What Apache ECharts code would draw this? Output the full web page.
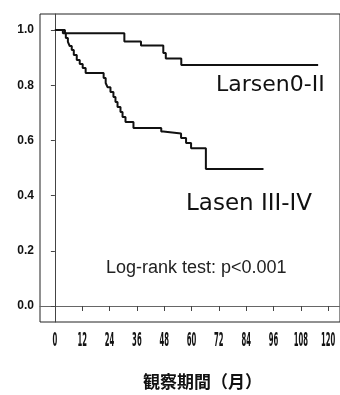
<!DOCTYPE html>
<html><head><meta charset="utf-8">
<script src="https://cdn.jsdelivr.net/npm/echarts@6/dist/echarts.min.js"></script>
<style>html,body{margin:0;padding:0;background:#fff}#c{width:340px;height:395px}</style>
</head><body><div id="c"></div>
<script>
// Kaplan-Meier steps: [month, survival after drop]
var larsen02 = [[0,1.0],[4.4,0.988],[30.5,0.958],[37.8,0.944],[47.6,0.917],[48.7,0.897],[55.5,0.873],[115.6,0.873]];
var lasen34 = [[0,1],[3.5,0.988],[4.8,0.971],[5.7,0.957],[6.5,0.942],[7.4,0.928],[8.3,0.909],[9.6,0.891],[10.9,0.877],[12.2,0.862],[13.5,0.844],[21.4,0.826],[22.3,0.808],[23.1,0.793],[24.4,0.775],[25.7,0.757],[26.6,0.739],[27.5,0.721],[28.8,0.703],[29.7,0.685],[31.0,0.667],[34.5,0.645],[46.7,0.632],[47.6,0.625],[55.4,0.609],[57.6,0.591],[59.8,0.572],[66.3,0.496],[91.6,0.496]];
// censored observations
var censor02 = [[37.1,0.958],[39.3,0.944],[41.4,0.944],[43.6,0.944],[45.8,0.944],[49.3,0.897],[51,0.897],[53.2,0.897],[58.9,0.873],[61.1,0.873],[63.3,0.873],[65.4,0.873],[66.7,0.873],[68.5,0.873],[69.8,0.873],[71.1,0.873],[72.4,0.873],[73.3,0.873],[75.5,0.873],[77.2,0.873],[79.4,0.873],[81.6,0.873],[84.2,0.873],[88.6,0.873],[90.8,0.873],[92.5,0.873],[115.6,0.873]];
var censor34 = [[45.8,0.645],[49.3,0.625],[51,0.625],[54.5,0.625],[61.1,0.572],[63.3,0.572],[67.6,0.496],[69.8,0.496],[71.1,0.496],[72.9,0.496],[75,0.496],[77.2,0.496],[82,0.496],[83.8,0.496],[88.6,0.496],[91.6,0.496]];
var xTicks = [0,12,24,36,48,60,72,84,96,108,120];
var yTicks = [0,0.2,0.4,0.6,0.8,1.0];
var xTitle = '観察期間（月）';
var labelUpper = 'Larsen0-II';
var labelLower = 'Lasen III-IV';
var testText = 'Log-rank test: p<0.001';

var X_MIN = -6.545, Y_MIN = -0.058;
var chart = echarts.init(document.getElementById('c'), null, {renderer:'canvas'});
chart.setOption({
  animation:false,
  grid:{left:40, top:14, right:-2, bottom:73, show:true, borderColor:'#222', borderWidth:1, backgroundColor:'transparent'},
  xAxis:{type:'value', min:X_MIN, max:125.2,
    axisLine:{show:true, lineStyle:{color:'#666', width:1}},
    splitLine:{show:false},
    axisTick:{show:true, length:5, customValues:xTicks, lineStyle:{color:'#444'}},
    axisLabel:{show:false}
  },
  yAxis:{type:'value', min:Y_MIN, max:1.058,
    axisLine:{show:true, lineStyle:{color:'#444', width:1}},
    splitLine:{show:false},
    axisTick:{show:true, length:4, customValues:yTicks, lineStyle:{color:'#444'}},
    axisLabel:{customValues:yTicks, margin:6, color:'#111', fontFamily:'"Liberation Sans",Arial,sans-serif', fontWeight:'bold', fontSize:12,
      formatter:function(v){return v.toFixed(1);}}
  },
  series:[
    {type:'line', step:'end', data:larsen02, symbol:'none', lineStyle:{color:'#111', width:2}},
    {type:'line', step:'end', data:lasen34, symbol:'none', lineStyle:{color:'#111', width:2}},
    {type:'scatter', data:censor02, symbol:'emptyCircle', symbolSize:4, itemStyle:{color:'#fff', borderColor:'#222', borderWidth:1}},
    {type:'scatter', data:censor34, symbol:'emptyCircle', symbolSize:4, itemStyle:{color:'#fff', borderColor:'#222', borderWidth:1}},
    // condensed x tick labels placed through the x scale
    {type:'custom', clip:false, silent:true,
      data:xTicks.map(function(v){return [v, Y_MIN];}),
      renderItem:function(params, api){
        var p = api.coord([api.value(0), api.value(1)]);
        return {type:'text', x:p[0], y:p[1]+10, scaleX:0.36, scaleY:1,
          style:{text:String(xTicks[params.dataIndex]), font:'bold 19px "DejaVu Sans"', fill:'#111', align:'center', verticalAlign:'top'}};
      }}
  ],
  graphic:[
    {type:'text', left:216, top:74, style:{text:labelUpper, font:'22px "DejaVu Sans"', fill:'#111'}},
    {type:'text', left:186, top:193, style:{text:labelLower, font:'23px "DejaVu Sans"', fill:'#111'}},
    {type:'text', left:106, top:259, style:{text:testText, font:'18px "Liberation Sans"', fill:'#222'}},
    {type:'text', left:143, top:373, style:{text:xTitle, font:'bold 17px "Noto Sans CJK JP"', fill:'#111'}}
  ]
});
</script></body></html>
